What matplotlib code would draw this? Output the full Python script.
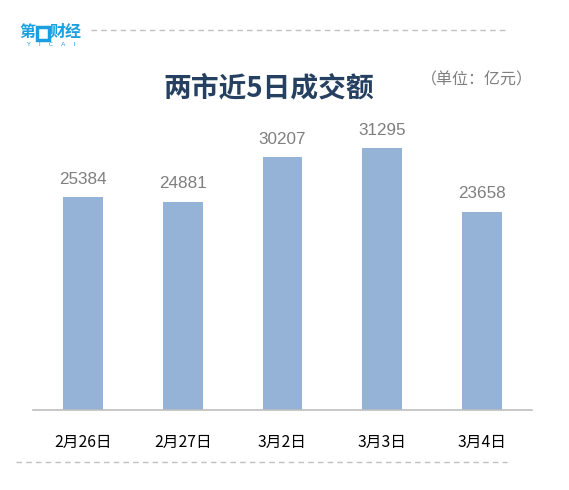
import matplotlib
matplotlib.use("Agg")
import matplotlib.pyplot as plt
from matplotlib.lines import Line2D
from matplotlib.patches import Rectangle

plt.rcParams['font.family'] = ['Noto Sans CJK SC', 'DejaVu Sans']

# data
dates = ['2月26日', '2月27日', '3月2日', '3月3日', '3月4日']
volumes = [25384, 24881, 30207, 31295, 23658]

W, H = 569, 490


# pixel position -> figure fraction
def fx(x):
    return x / W


def fy(y):
    return 1 - y / H


fig = plt.figure(figsize=(W / 100, H / 100), dpi=100)
ax = fig.add_axes([fx(33), fy(410), fx(532) - fx(33), (410 - 117) / H])

xs = range(len(dates))
ax.bar(xs, volumes, width=0.4, color='#95B3D7')
for x, v in zip(xs, volumes):
    ax.text(x, v + 1250, str(v), ha='center', va='bottom', fontsize=12.3,
            color='#7F7F7F', family=['Liberation Sans', 'DejaVu Sans'])

ax.set_xlim(-0.5, len(dates) - 0.5)
ax.set_ylim(0, 35000)
ax.set_xticks(list(xs))
ax.set_xticklabels(dates, fontsize=11.3, color='#000000')
ax.tick_params(axis='x', length=0, pad=17)
ax.set_yticks([])
for s in ['top', 'right', 'left']:
    ax.spines[s].set_visible(False)
ax.spines['bottom'].set_color('#BFBFBF')
ax.spines['bottom'].set_linewidth(1.2)

# title and unit
fig.text(fx(269), fy(88), '两市近5日成交额', ha='center', va='center',
         fontsize=20, fontweight='bold', color='#254061')
fig.text(fx(477), fy(80), '（单位：亿元）', ha='center', va='center',
         fontsize=11.5, color='#7F7F7F')

# dashed separators
fig.add_artist(Line2D([fx(91), fx(507)], [fy(30), fy(30)], color='#C0C0C0',
                      lw=1, ls=(0, (4, 3))))
fig.add_artist(Line2D([fx(16), fx(507)], [fy(462), fy(462)], color='#C0C0C0',
                      lw=1, ls=(0, (4, 3))))

# logo
blue = '#1AA0E0'
fig.text(fx(19), fy(32), '第', ha='left', va='center', fontsize=11.5,
         fontweight='bold', color=blue)
fig.add_artist(Rectangle((fx(37), fy(40)), fx(12), 13 / H, transform=fig.transFigure,
                         facecolor='white', edgecolor=blue, lw=2.5))
fig.text(fx(50), fy(32), '财经', ha='left', va='center', fontsize=11.5,
         fontweight='bold', color=blue)
fig.text(fx(51), fy(44), 'Y    I    C    A    I', ha='center', va='center',
         fontsize=4.5, color=blue, family=['DejaVu Sans'])

fig.savefig('out.png', dpi=100)
